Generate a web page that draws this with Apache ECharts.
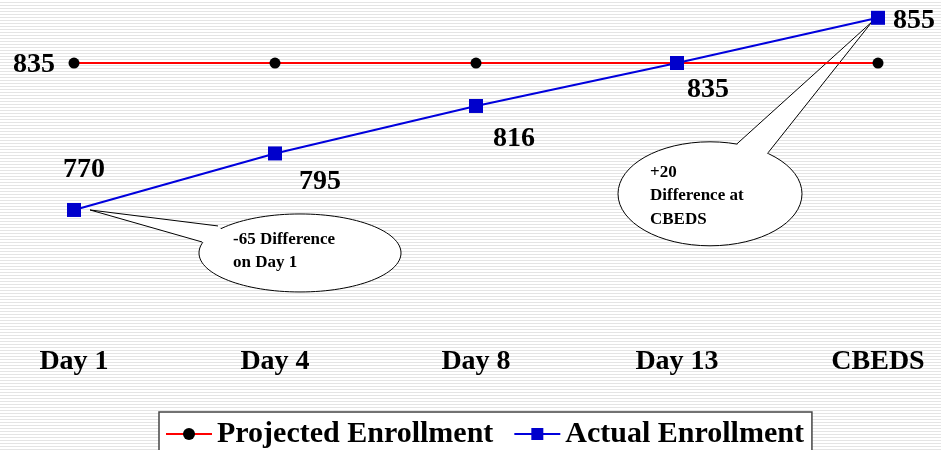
<!DOCTYPE html>
<html>
<head>
<meta charset="utf-8">
<script src="https://cdn.jsdelivr.net/npm/echarts@6/dist/echarts.min.js"></script>
<style>
  html, body { margin: 0; padding: 0; }
  #enrollment {
    width: 941px;
    height: 450px;
    background: repeating-linear-gradient(to bottom, #ffffff 0px, #ffffff 2px, #e4e4e4 2px, #e4e4e4 3px);
  }
</style>
</head>
<body>
<div id="enrollment"></div>
<script>
  const categories = ['Day 1', 'Day 4', 'Day 8', 'Day 13', 'CBEDS']
  const projected = [835, 835, 835, 835, 835]
  const actual = [770, 795, 816, 835, 855]

  const serif = '"Liberation Serif", "Times New Roman", serif'
  // label offsets from each point (px)
  const actualOffsets = [[10, -40], [45, 28], [38, 33], [31, 27], [36, 3]]

  let myChart = echarts.init(document.getElementById('enrollment'))

  const labelStyle = {
    show: true,
    position: 'inside',
    align: 'center',
    verticalAlign: 'middle',
    color: '#000',
    fontFamily: serif,
    fontWeight: 'bold',
    fontSize: 28
  }

  const option = {
    animation: false,
    grid: {
      left: 74,
      right: 63,
      top: 6.5,
      bottom: 127
    },
    xAxis: {
      type: 'category',
      data: categories,
      boundaryGap: false,
      axisLine: { show: false },
      axisTick: { show: false },
      splitLine: { show: false },
      axisLabel: {
        margin: 25,
        color: '#000',
        fontFamily: serif,
        fontWeight: 'bold',
        fontSize: 28
      }
    },
    yAxis: {
      type: 'value',
      min: 720,
      max: 860,
      show: false,
      splitLine: { show: false }
    },
    legend: {
      left: 159,
      top: 412,
      itemWidth: 46,
      itemHeight: 15,
      itemGap: 20,
      padding: [7, 8, 8, 6],
      borderColor: '#444',
      borderWidth: 1.5,
      backgroundColor: '#fff',
      textStyle: {
        color: '#000',
        fontFamily: serif,
        fontWeight: 'bold',
        fontSize: 30
      },
      data: ['Projected Enrollment', 'Actual Enrollment']
    },
    series: [
      {
        name: 'Projected Enrollment',
        type: 'line',
        symbol: 'circle',
        symbolSize: 11,
        z: 3,
        lineStyle: { color: '#ff0000', width: 2 },
        itemStyle: { color: '#000' },
        data: projected.map(function (v, i) {
          return {
            value: v,
            label: i === 0 ? Object.assign({}, labelStyle, { offset: [-40, 2] }) : { show: false }
          }
        })
      },
      {
        name: 'Actual Enrollment',
        type: 'line',
        symbol: 'rect',
        symbolSize: 14,
        z: 4,
        lineStyle: { color: '#0000dd', width: 2 },
        itemStyle: { color: '#0000cc' },
        data: actual.map(function (v, i) {
          return {
            value: v,
            label: Object.assign({}, labelStyle, { offset: actualOffsets[i] })
          }
        })
      }
    ]
  }
  myChart.setOption(option)

  // speech-bubble callouts anchored to the first and last actual points
  function callout (idx, tip, center, radii, base1, base2, inner, textPos, text, lineHeight) {
    const p = myChart.convertToPixel({ seriesIndex: 1 }, [idx, actual[idx]])
    const cx = p[0] + center[0]
    const cy = p[1] + center[1]
    const t = [p[0] + tip[0], p[1] + tip[1]]
    const b1 = [cx + base1[0], cy + base1[1]]
    const b2 = [cx + base2[0], cy + base2[1]]
    const ins = [cx + inner[0], cy + inner[1]]
    return [
      {
        type: 'ellipse',
        z: 1,
        shape: { cx: cx, cy: cy, rx: radii[0], ry: radii[1] },
        style: { fill: '#fff', stroke: '#000', lineWidth: 1 }
      },
      {
        type: 'polygon',
        z: 1,
        shape: { points: [t, b1, ins, b2] },
        style: { fill: '#fff', stroke: null }
      },
      {
        type: 'polyline',
        z: 1,
        shape: { points: [b1, t, b2] },
        style: { fill: null, stroke: '#000', lineWidth: 1 }
      },
      {
        type: 'text',
        z: 1,
        x: cx + textPos[0],
        y: cy + textPos[1],
        style: {
          text: text,
          fill: '#000',
          font: 'bold 17px ' + serif,
          lineHeight: lineHeight,
          verticalAlign: 'top'
        }
      }
    ]
  }

  const graphics = [].concat(
    callout(0, [16, 0], [226, 43], [101, 39], [-82, -27], [-98, -11], [-60, -5], [-67, -25],
      '-65 Difference\non Day 1', 23),
    callout(4, [-6, 4], [-168, 176], [92, 52], [27, -50], [58, -41], [40, -25], [-60, -33],
      '+20\nDifference at\nCBEDS', 23.5)
  )
  myChart.setOption({ graphic: graphics })
</script>
</body>
</html>
